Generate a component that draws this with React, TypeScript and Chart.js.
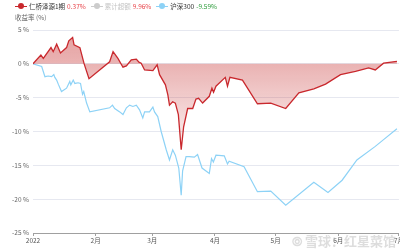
import React, { useEffect, useRef } from "react";
import { Chart, registerables } from "chart.js";

Chart.register(...registerables);

// x = days since 2022-01-01
const monthStarts = [0, 31, 59, 90, 120, 151, 181];
const monthLabels = ["2022", "2月", "3月", "4月", "5月", "6月", "7月"];
const yTicks = [5, 0, -5, -10, -15, -20, -25];

const fundName = "仁桥泽源1期";
const fundDays = [0, 3.9, 5.1, 8.9, 10.0, 11.7, 13.6, 16.6, 17.7, 19.6, 20.3, 23.2, 25.3, 27.7, 37.9, 39.6, 42.0, 44.5, 46.2, 48.6, 51.1, 52.4, 53.5, 55.2, 59.3, 61.4, 62.6, 65.5, 66.7, 67.5, 69.1, 70.4, 71.9, 73.3, 74.5, 76.5, 79.0, 80.6, 81.9, 83.9, 87.2, 88.5, 89.3, 90.5, 95.1, 96.2, 97.4, 103.6, 111.0, 117.6, 125.0, 131.5, 138.9, 144.7, 152.1, 159.5, 166.0, 169.3, 173.4, 180.0];
const fundReturns = [0, 1.3, 0.8, 2.4, 1.8, 2.9, 1.6, 2.4, 3.4, 3.9, 2.8, 2.4, 0.0, -2.2, 0.3, 1.8, 0.8, -0.5, -0.3, 0.6, 0.7, 0.25, 0.1, -0.9, -1.0, -0.15, -1.6, -3.1, -4.6, -6.1, -5.6, -5.8, -7.5, -12.7, -9.3, -6.6, -6.6, -5.2, -5.1, -5.8, -4.8, -3.6, -4.2, -3.3, -2.0, -3.3, -2.0, -2.4, -5.9, -5.8, -6.6, -4.3, -3.7, -3.0, -1.6, -1.1, -0.6, -0.9, 0.1, 0.37];

const indexName = "沪深300";
const indexDays = [0, 4.3, 5.9, 7.5, 9.2, 10.3, 10.8, 11.7, 12.5, 14.1, 16.6, 18.2, 18.7, 19.9, 20.7, 22.3, 23.5, 24.5, 25.1, 26.5, 28.1, 37.9, 39.3, 40.4, 42.9, 44.5, 46.2, 47.8, 49.4, 51.1, 52.7, 54.3, 55.2, 57.6, 59.3, 60.1, 61.7, 63.4, 65.9, 67.5, 69.1, 70.4, 72.1, 73.3, 74.0, 75.7, 77.3, 79.8, 81.4, 83.6, 87.2, 88.3, 89.2, 90.5, 94.6, 96.2, 97.0, 104.4, 111.0, 117.6, 125.0, 138.9, 145.9, 152.9, 160.2, 169.3, 173.4, 180.0];
const indexReturns = [0, -0.4, -1.9, -1.8, -1.9, -1.6, -2.0, -2.4, -3.0, -4.1, -3.6, -2.6, -3.1, -2.4, -2.9, -2.8, -2.9, -4.5, -4.1, -5.8, -7.1, -6.5, -6.1, -6.6, -7.1, -7.5, -6.5, -6.1, -6.3, -6.1, -6.8, -8.0, -7.1, -7.1, -6.4, -7.1, -7.8, -10.0, -12.7, -14.2, -12.7, -13.5, -15.4, -19.4, -15.8, -13.7, -13.7, -13.8, -13.4, -15.4, -16.2, -14.0, -14.5, -13.5, -13.6, -14.8, -14.4, -15.2, -18.9, -18.8, -20.9, -17.5, -19.0, -17.2, -14.2, -12.2, -11.2, -9.59];

const excessName = "累计超额";
const legendValues = ["0.37%", "9.96%", "-9.59%"];

const FONT = "'Noto Sans CJK SC', 'Noto Sans', sans-serif";
const RED = "#c9282d";
const BLUE = "#8dd2f6";

function Marker({ color }: { color: string }) {
  return (
    <span style={{ position: "relative", display: "inline-block", width: 12, height: 8, marginRight: 2, verticalAlign: "middle" }}>
      <span style={{ position: "absolute", left: 0, top: 3.5, width: 12, height: 1.5, background: color }} />
      <span style={{ position: "absolute", left: 3, top: 1, width: 6, height: 6, borderRadius: 3, background: color }} />
    </span>
  );
}

export default function App() {
  const ref = useRef<HTMLCanvasElement>(null);
  useEffect(() => {
    document.body.style.margin = "0";
    const canvas = ref.current!;
    const chart = new Chart(canvas, {
      type: "line",
      data: {
        datasets: [
          {
            label: fundName,
            data: fundDays.map((d, i) => ({ x: d, y: fundReturns[i] })),
            borderColor: RED,
            borderWidth: 1.3,
            pointRadius: 0,
            tension: 0,
            fill: { target: { value: 0 } },
            backgroundColor: (ctx: any) => {
              const ch = ctx.chart;
              const area = ch.chartArea;
              if (!area) return "rgba(200,50,50,0.3)";
              const ys = ch.scales.y;
              const top = ys.getPixelForValue(5);
              const bot = ys.getPixelForValue(-13);
              const g = ch.ctx.createLinearGradient(0, top, 0, bot);
              g.addColorStop(0, "rgba(200,55,55,0.48)");
              g.addColorStop(0.28, "rgba(200,55,55,0.38)");
              g.addColorStop(1, "rgba(200,55,55,0.06)");
              return g;
            },
          },
          {
            label: indexName,
            data: indexDays.map((d, i) => ({ x: d, y: indexReturns[i] })),
            borderColor: BLUE,
            borderWidth: 1.2,
            pointRadius: 0,
            tension: 0,
            fill: false,
          },
        ],
      },
      options: {
        responsive: false,
        animation: false,
        devicePixelRatio: 1,
        layout: { padding: { top: 30, left: 0, right: 0, bottom: 0 } },
        plugins: { legend: { display: false }, tooltip: { enabled: false } },
        scales: {
          x: {
            type: "linear",
            min: 0,
            max: 181,
            afterBuildTicks: (s: any) => {
              s.ticks = monthStarts.map((v) => ({ value: v }));
            },
            afterFit: (s: any) => {
              s.height = 18;
            },
            grid: { display: true, drawOnChartArea: false, drawTicks: true, tickLength: 3, color: "#a0a0a0" },
            border: { display: true, color: "#a0a0a0" },
            ticks: {
              autoSkip: false,
              maxRotation: 0,
              padding: 1,
              color: "#555",
              font: { family: FONT, size: 6.5 },
              callback: (v: any) => {
                const i = monthStarts.indexOf(Number(v));
                return i >= 0 ? monthLabels[i] : "";
              },
            },
          },
          y: {
            min: -25,
            max: 5,
            afterBuildTicks: (s: any) => {
              s.ticks = yTicks.map((v) => ({ value: v }));
            },
            afterFit: (s: any) => {
              s.width = 33;
            },
            grid: { color: "#e6e8f0", drawTicks: false, lineWidth: 1 },
            border: { display: false },
            ticks: {
              padding: 4,
              color: "#666",
              font: { family: FONT, size: 6.5 },
              callback: (v: any) => v + " %",
            },
          },
        },
      },
    } as any);
    return () => chart.destroy();
  }, []);

  const legendText: React.CSSProperties = { fontFamily: FONT, fontSize: 6.5, color: "#333" };
  return (
    <div style={{ position: "fixed", left: 0, top: 0, width: 400, height: 251, overflow: "hidden", background: "#fff" }}>
      <canvas ref={ref} width={405} height={251} style={{ position: "absolute", left: 0, top: 0, display: "block" }} />
      <div style={{ position: "absolute", left: 15, top: 1, height: 10, display: "flex", alignItems: "center", whiteSpace: "nowrap", ...legendText }}>
        <Marker color={RED} />
        <span>{fundName}</span>
        <span style={{ color: "#e8474d", marginLeft: 2 }}>{legendValues[0]}</span>
        <span style={{ width: 5 }} />
        <Marker color="#cccccc" />
        <span style={{ color: "#c4c4c4" }}>{excessName}</span>
        <span style={{ color: "#e8474d", marginLeft: 2 }}>{legendValues[1]}</span>
        <span style={{ width: 5 }} />
        <Marker color={BLUE} />
        <span>{indexName}</span>
        <span style={{ color: "#2e9c3c", marginLeft: 2 }}>{legendValues[2]}</span>
      </div>
      <div style={{ position: "absolute", left: 15, top: 12, ...legendText, color: "#666" }}>收益率 (%)</div>
      <div style={{ position: "absolute", left: 292, top: 231, fontFamily: FONT, fontSize: 13, fontWeight: 700, color: "rgba(170,170,170,0.4)", whiteSpace: "nowrap" }}>
        ⦾ 雪球：红星菜馆
      </div>
    </div>
  );
}
